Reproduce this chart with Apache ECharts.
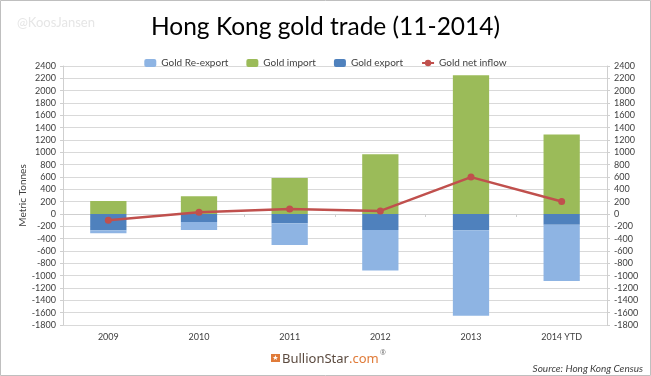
<!DOCTYPE html>
<html>
<head>
<meta charset="utf-8">
<script src="https://cdn.jsdelivr.net/npm/echarts@6/dist/echarts.min.js"></script>
<style>
  html, body { margin: 0; padding: 0; background: #fff; }
  #chart { width: 651px; height: 376px; }
</style>
</head>
<body>
<div id="chart"></div>
<script>
// values, metric tonnes
const years = ['2009', '2010', '2011', '2012', '2013', '2014 YTD'];
const goldImport = [210, 287, 583, 968, 2250, 1290];
const goldExport = [-265, -130, -152, -258, -262, -176];
const goldReExport = [-48, -130, -350, -660, -1390, -910];
const goldNetInflow = [-103, 27, 81, 50, 598, 204];

const FONT = 'Lato';
const axisColor = '#cfcfcf';
const labelColor = '#404040';

function yAxisOf(pos) {
  const axis = {
    type: 'value',
    position: pos,
    min: -1800,
    max: 2400,
    interval: 200,
    axisLine: { show: true, lineStyle: { color: axisColor, width: 1 } },
    axisTick: { show: true, length: 3, lineStyle: { color: axisColor } },
    axisLabel: { color: labelColor, fontSize: 9, fontFamily: FONT, margin: 7, formatter: (v) => String(v) },
    splitLine: { show: pos === 'left', lineStyle: { color: '#d9d9d9', width: 1 } },
  };
  if (pos === 'left') {
    axis.name = 'Metric Tonnes';
    axis.nameLocation = 'middle';
    axis.nameGap = 35;
    axis.nameMoveOverlap = false;
    axis.nameTextStyle = { fontFamily: FONT, fontSize: 10, color: labelColor };
  }
  return axis;
}

const chart = echarts.init(document.getElementById('chart'));
chart.setOption({
  animation: false,
  title: {
    text: 'Hong Kong gold trade (11-2014)',
    left: 'center',
    top: 10,
    textStyle: { fontFamily: FONT, fontWeight: 'normal', fontSize: 24.5, color: '#000' },
  },
  legend: {
    data: ['Gold Re-export', 'Gold import', 'Gold export', 'Gold net inflow'],
    top: 53,
    left: 'center',
    itemWidth: 12,
    itemHeight: 8,
    itemGap: 18,
    textStyle: { fontFamily: FONT, fontSize: 10, color: '#404040' },
  },
  grid: { left: 63, right: 44, top: 66, bottom: 51 },
  xAxis: [
    {
      type: 'category',
      data: years,
      position: 'bottom',
      axisLine: { show: false, onZero: false },
      axisTick: { show: false },
      axisLabel: { color: labelColor, fontSize: 9, fontFamily: FONT, margin: 8 },
    },
    {
      type: 'category',
      data: years,
      position: 'bottom',
      axisLine: { show: true, onZero: true, lineStyle: { color: axisColor } },
      axisTick: { show: true, length: 3, lineStyle: { color: axisColor } },
      axisLabel: { show: false },
    },
  ],
  yAxis: [yAxisOf('left'), yAxisOf('right')],
  series: [
    {
      name: 'Gold import',
      type: 'bar',
      stack: 'trade',
      barWidth: '40%',
      itemStyle: { color: '#9bbb59' },
      data: goldImport,
    },
    {
      name: 'Gold export',
      type: 'bar',
      stack: 'trade',
      barWidth: '40%',
      itemStyle: { color: '#4f81bd' },
      data: goldExport,
    },
    {
      name: 'Gold Re-export',
      type: 'bar',
      stack: 'trade',
      barWidth: '40%',
      itemStyle: { color: '#8eb4e3' },
      data: goldReExport,
    },
    {
      name: 'Gold net inflow',
      type: 'line',
      symbol: 'circle',
      symbolSize: 7,
      itemStyle: { color: '#c0504d' },
      lineStyle: { color: '#c0504d', width: 2.5 },
      data: goldNetInflow,
      z: 5,
    },
  ],
  graphic: [
    {
      type: 'rect',
      shape: { x: 0.5, y: 0.5, width: 650, height: 375 },
      style: { fill: 'none', stroke: '#bfbfbf', lineWidth: 1 },
      silent: true,
    },
    {
      type: 'text',
      left: 17,
      top: 16,
      style: { text: '@KoosJansen', fill: '#e6e6e6', font: '13px ' + FONT },
    },
    {
      type: 'rect',
      shape: { x: 271, y: 354, width: 9, height: 8 },
      style: { fill: '#e07b39' },
    },
    {
      type: 'text',
      x: 275.5,
      y: 358,
      style: { text: '★', fill: '#fff', font: '7px "DejaVu Sans"', align: 'center', verticalAlign: 'middle' },
    },
    {
      type: 'text',
      x: 282,
      y: 359,
      style: {
        text: '{a|BullionStar}{b|.com}',
        verticalAlign: 'middle',
        rich: {
          a: { fill: '#5b4a3f', font: '13px "Noto Sans"' },
          b: { fill: '#e07b39', font: '13px "Noto Sans"' },
        },
      },
    },
    {
      type: 'text',
      x: 380,
      y: 349,
      style: { text: '®', fill: '#777', font: '7px "Noto Sans"' },
    },
    {
      type: 'text',
      x: 643,
      y: 369,
      style: {
        text: 'Source: Hong Kong Census',
        fill: '#404040',
        font: 'italic 10px ' + FONT,
        align: 'right',
        verticalAlign: 'middle',
      },
    },
  ],
});
</script>
</body>
</html>
